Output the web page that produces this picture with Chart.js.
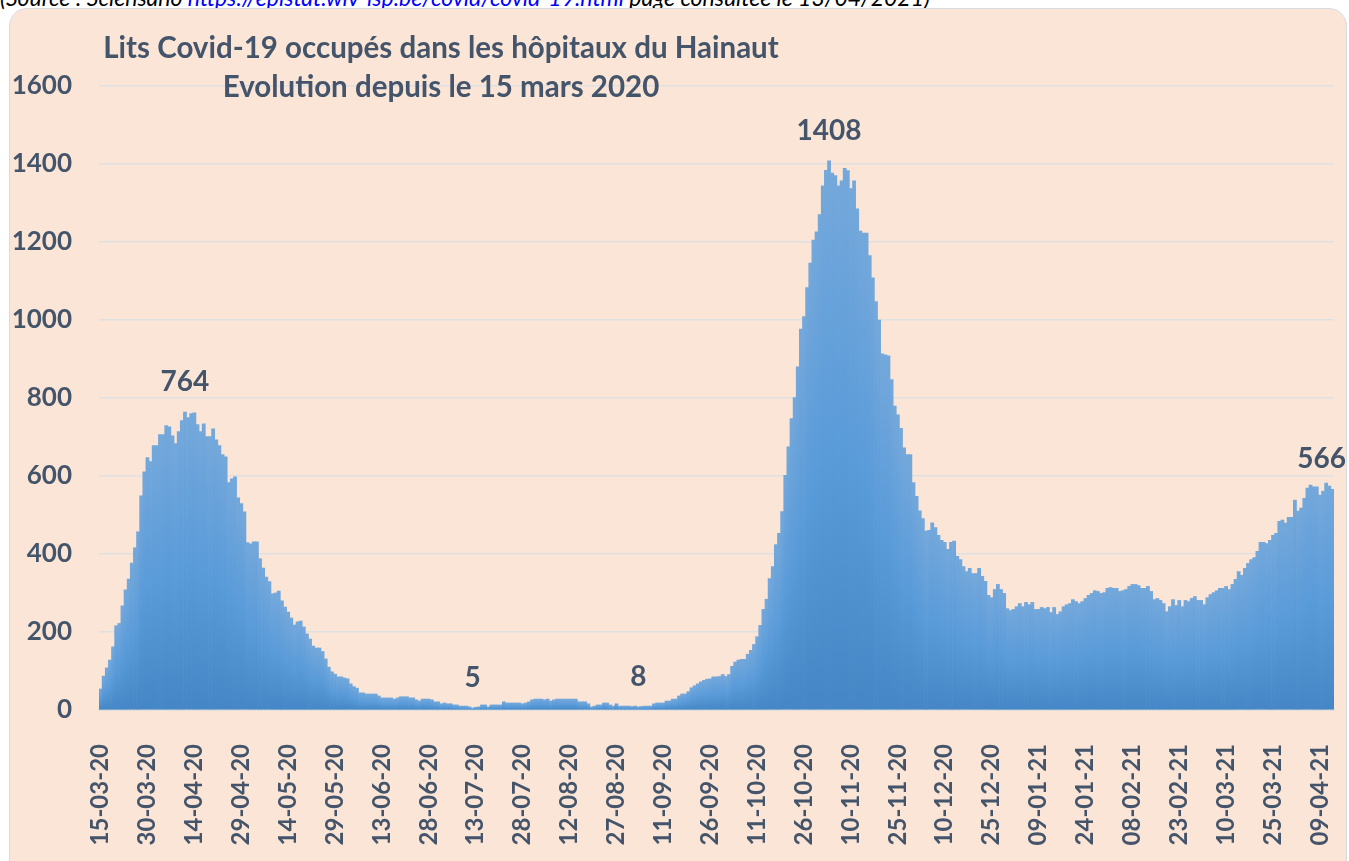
<!DOCTYPE html>
<html lang="fr">
<head>
<meta charset="utf-8">
<title>Lits Covid-19 occupés - Hainaut</title>
<script src="https://cdn.jsdelivr.net/npm/chart.js@4/dist/chart.umd.min.js"></script>
<style>
    body {
        margin: 0;
        width: 1349px;
        height: 861px;
        overflow: hidden;
        background: #ffffff;
        position: relative;
        font-family: "Lato", "DejaVu Sans", sans-serif;
    }
    #source {
        position: absolute;
        left: 0;
        top: -17px;
        font-size: 23px;
        font-style: italic;
        color: #000000;
        white-space: nowrap;
    }
    #source a {
        color: #0000ff;
    }
    #panel {
        position: absolute;
        left: 9px;
        top: 8px;
        width: 1336px;
        height: 880px;
        background: #fbe5d6;
        border: 1.5px solid #d6dce4;
        border-radius: 18px;
    }
    #chart {
        position: absolute;
        left: 0;
        top: 0;
    }
    #title {
        position: absolute;
        left: 0;
        top: 27px;
        width: 882px;
        text-align: center;
        font-weight: bold;
        font-size: 29.5px;
        line-height: 39px;
        color: #44546a;
    }
</style>
</head>
<body>

<div id="source">(Source : Sciensano <a href="#">https://epistat.wiv-isp.be/covid/covid-19.html</a> page consultée le 13/04/2021)</div>
<div id="panel"></div>
<canvas id="chart" width="1349" height="861"></canvas>
<div id="title">Lits Covid-19 occupés dans les hôpitaux du Hainaut<br>Evolution depuis le 15 mars 2020</div>

<script>
// first day of the series, one bar per day
let startDay = [2020, 3, 15];
let tickEvery = 15;

// occupied beds, 15-03-2020 .. 13-04-2021
let beds = [
    54, 87, 108, 128, 162, 216, 222, 267, 308, 336,
    377, 416, 457, 549, 611, 647, 637, 678, 678, 706,
    706, 729, 726, 703, 683, 714, 742, 764, 750, 760,
    762, 732, 714, 734, 701, 701, 721, 693, 678, 655,
    649, 583, 593, 598, 544, 529, 508, 429, 426, 431,
    431, 388, 364, 341, 329, 298, 300, 305, 280, 264,
    251, 236, 218, 226, 228, 213, 195, 182, 164, 159,
    159, 150, 131, 110, 98, 92, 85, 85, 82, 80,
    67, 60, 56, 44, 44, 41, 41, 41, 41, 36,
    31, 31, 31, 31, 28, 31, 34, 34, 34, 31,
    31, 26, 23, 28, 28, 28, 26, 21, 21, 16,
    18, 16, 16, 13, 13, 10, 10, 10, 8, 5,
    7, 8, 13, 13, 8, 13, 13, 13, 13, 21,
    18, 18, 18, 18, 18, 16, 18, 21, 26, 28,
    28, 28, 26, 28, 23, 26, 28, 28, 28, 28,
    28, 28, 28, 21, 21, 21, 16, 8, 10, 13,
    13, 18, 18, 13, 10, 16, 10, 10, 10, 10,
    9, 10, 8, 9, 10, 10, 10, 16, 18, 18,
    18, 23, 23, 28, 28, 36, 41, 41, 47, 57,
    62, 67, 72, 76, 79, 80, 85, 85, 86, 91,
    86, 91, 112, 123, 128, 130, 130, 143, 153, 168,
    188, 217, 258, 284, 337, 368, 424, 453, 509, 602,
    675, 747, 801, 880, 977, 1009, 1083, 1146, 1205, 1226,
    1270, 1344, 1384, 1408, 1377, 1370, 1344, 1357, 1389, 1383,
    1337, 1357, 1285, 1228, 1223, 1223, 1165, 1108, 1047, 1000,
    913, 911, 908, 847, 779, 757, 722, 672, 655, 655,
    583, 548, 511, 491, 459, 461, 480, 468, 448, 435,
    430, 412, 430, 433, 394, 386, 368, 355, 363, 350,
    350, 363, 343, 330, 294, 288, 309, 322, 309, 299,
    260, 255, 258, 265, 273, 265, 276, 270, 276, 258,
    258, 263, 260, 263, 250, 263, 245, 252, 265, 270,
    273, 283, 278, 273, 278, 286, 294, 299, 306, 304,
    299, 301, 312, 314, 312, 312, 304, 306, 309, 317,
    322, 322, 319, 312, 312, 317, 304, 283, 286, 281,
    273, 252, 265, 283, 268, 281, 265, 281, 278, 286,
    291, 281, 281, 270, 288, 296, 301, 306, 312, 312,
    317, 309, 322, 335, 355, 345, 363, 376, 386, 391,
    407, 430, 430, 427, 435, 448, 453, 484, 487, 479,
    494, 494, 538, 510, 518, 543, 569, 577, 572, 572,
    551, 561, 582, 574, 566
];

// bars that carry their value above them (peaks and lows)
let markedDays = [27, 119, 172, 233, 394];

let yMax = 1600;
let yStep = 200;

let textColor = "#44546a";

function two(n) {
    return (n < 10 ? "0" : "") + n;
}

let days = beds.map((v, i) => {
    let d = new Date(Date.UTC(startDay[0], startDay[1] - 1, startDay[2] + i));
    return two(d.getUTCDate()) + "-" + two(d.getUTCMonth() + 1) + "-" + two(d.getUTCFullYear() % 100);
});

// Excel-like gradient, one per bar
function barFill(context) {
    let chart = context.chart;
    let y = chart.scales.y;
    if (!chart.chartArea || !y || context.raw == null) return "#5b9bd5";
    let top = y.getPixelForValue(context.raw);
    let bottom = y.getPixelForValue(0);
    if (!isFinite(top) || bottom - top < 1) return "#5b9bd5";
    let g = chart.ctx.createLinearGradient(0, top, 0, bottom);
    g.addColorStop(0, "#74a8db");
    g.addColorStop(0.5, "#5a9bd9");
    g.addColorStop(1, "#4586c6");
    return g;
}

let valueLabels = {
    id: "valueLabels",
    afterDatasetsDraw(chart) {
        let ctx = chart.ctx;
        let meta = chart.getDatasetMeta(0);
        ctx.save();
        ctx.font = "bold 28px Lato";
        ctx.fillStyle = textColor;
        ctx.textAlign = "center";
        ctx.textBaseline = "middle";
        markedDays.forEach(i => {
            let bar = meta.data[i];
            let text = String(beds[i]);
            let w = ctx.measureText(text).width;
            let x = Math.min(bar.x, 1346 - w / 2);
            ctx.fillText(text, x, bar.y - 30);
        });
        ctx.restore();
    }
};

new Chart(document.getElementById("chart"), {
    type: "bar",
    data: {
        labels: days,
        datasets: [{
            label: "Lits occupés",
            data: beds,
            backgroundColor: barFill,
            borderWidth: 0,
            barPercentage: 1,
            categoryPercentage: 1
        }]
    },
    options: {
        responsive: false,
        animation: false,
        layout: {
            padding: { left: 0, top: 86, right: 15, bottom: 0 }
        },
        plugins: {
            legend: { display: false },
            tooltip: { enabled: false },
            title: { display: false }
        },
        scales: {
            x: {
                offset: true,
                grid: { display: false },
                border: { display: true, color: "#d9d9d9", width: 1.5 },
                ticks: {
                    autoSkip: false,
                    minRotation: 90,
                    maxRotation: 90,
                    padding: 26,
                    color: textColor,
                    font: { family: "Lato", weight: "bold", size: 24 },
                    callback: (v, i) => i % tickEvery === 0 ? days[i] : null
                },
                afterFit: scale => {
                    scale.height = 861 - 710;
                    scale.paddingLeft = 0;
                    scale.paddingRight = 0;
                }
            },
            y: {
                min: 0,
                max: yMax,
                grid: { color: "#dfe0e2", lineWidth: 1.5, drawTicks: false },
                border: { display: false },
                ticks: {
                    stepSize: yStep,
                    padding: 27,
                    color: textColor,
                    font: { family: "Lato", weight: "bold", size: 26 },
                    callback: v => String(v)
                },
                afterFit: scale => { scale.width = 99; }
            }
        }
    },
    plugins: [valueLabels]
});
</script>
</body>
</html>
